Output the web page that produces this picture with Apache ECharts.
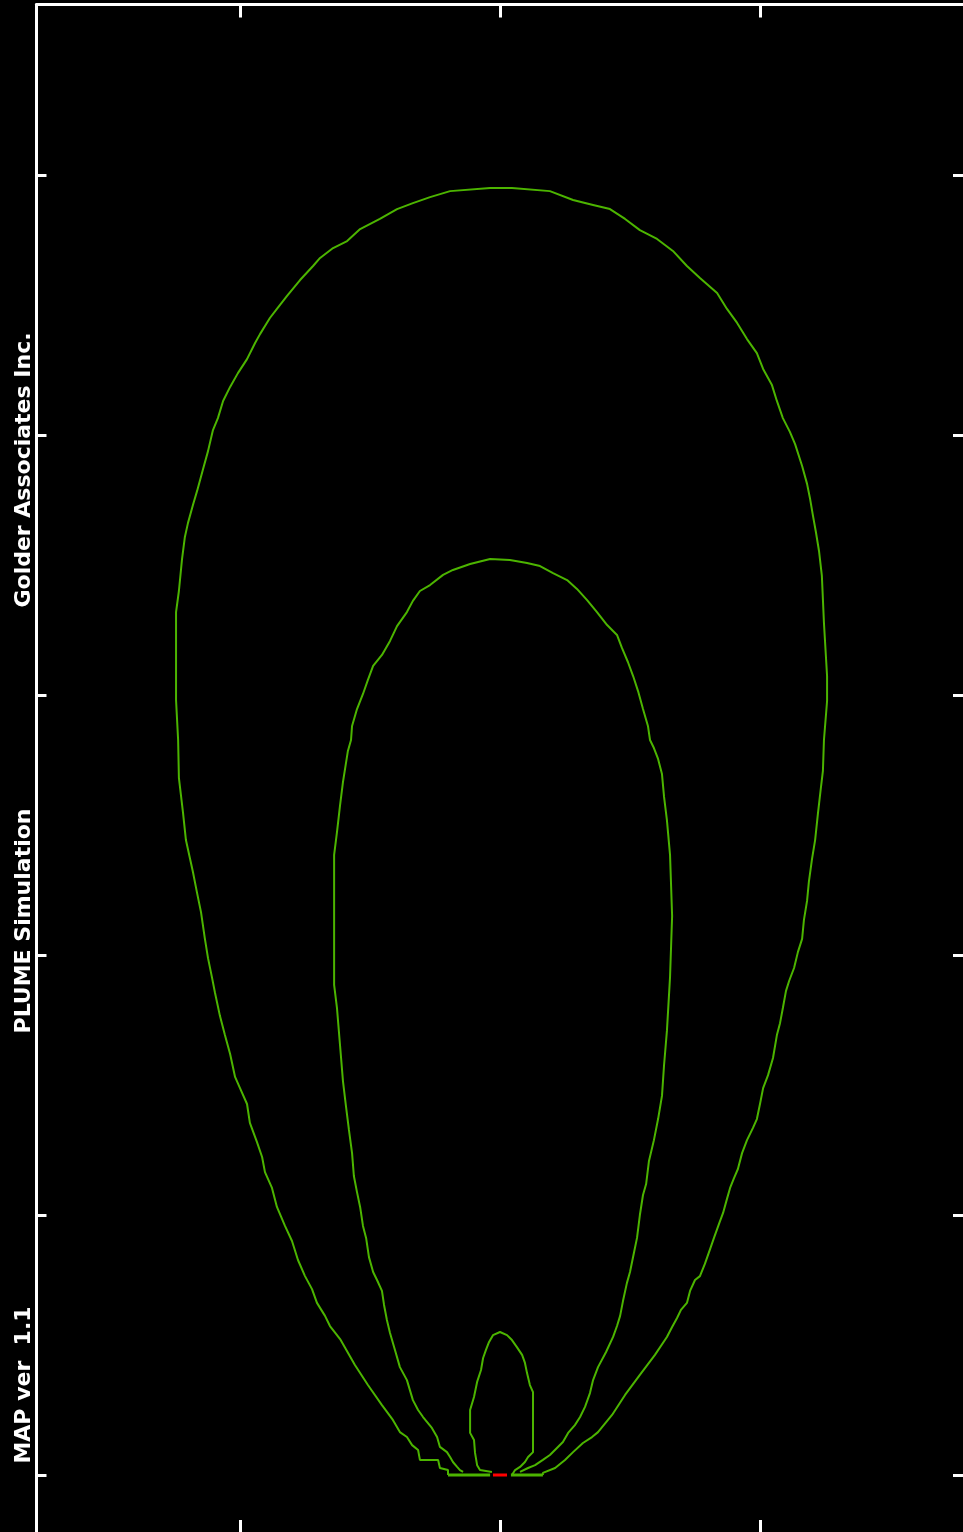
<!DOCTYPE html>
<html>
<head>
<meta charset="utf-8">
<script src="https://cdn.jsdelivr.net/npm/echarts@6/dist/echarts.min.js"></script>
<style>
html,body{margin:0;padding:0;background:#000;}
#chart{width:963px;height:1532px;}
</style>
</head>
<body>
<div id="chart"></div>
<script>
// Tick positions (distance units, source at 0,0)
const xTicks = [-1, 0, 1];
const yTicks = [0, 1, 2, 3, 4, 5];

// Outer concentration contour [x, y]
const outerContour = [
 [-0.200,0.000],[-0.200,0.019],[-0.231,0.027],[-0.238,0.058],[-0.308,0.058],[-0.315,0.096],[-0.338,0.115],
 [-0.358,0.146],[-0.385,0.165],[-0.412,0.212],[-0.454,0.269],[-0.508,0.346],[-0.558,0.423],[-0.615,0.523],
 [-0.654,0.573],[-0.673,0.612],[-0.704,0.662],[-0.723,0.715],[-0.750,0.765],[-0.777,0.827],[-0.800,0.900],
 [-0.827,0.958],[-0.858,1.031],[-0.877,1.104],[-0.904,1.165],[-0.915,1.223],[-0.935,1.281],[-0.962,1.354],
 [-0.973,1.427],[-1.000,1.488],[-1.019,1.531],[-1.038,1.619],[-1.058,1.692],[-1.077,1.765],[-1.096,1.854],
 [-1.108,1.915],[-1.123,1.988],[-1.135,2.062],[-1.150,2.165],[-1.165,2.238],[-1.181,2.319],[-1.208,2.442],
 [-1.219,2.546],[-1.235,2.681],[-1.238,2.827],[-1.246,2.981],[-1.246,3.319],[-1.235,3.400],[-1.223,3.523],
 [-1.212,3.608],[-1.200,3.662],[-1.181,3.731],[-1.165,3.785],[-1.142,3.869],[-1.123,3.938],[-1.104,4.019],
 [-1.085,4.065],[-1.065,4.131],[-1.038,4.185],[-1.008,4.238],[-0.973,4.292],[-0.942,4.354],[-0.923,4.388],
 [-0.885,4.450],[-0.858,4.485],[-0.819,4.535],[-0.769,4.596],[-0.719,4.650],[-0.692,4.681],[-0.642,4.719],
 [-0.588,4.746],[-0.538,4.792],[-0.462,4.831],[-0.396,4.869],[-0.335,4.892],[-0.269,4.915],[-0.192,4.938],
 [-0.038,4.950],[0.046,4.950],[0.192,4.938],[0.281,4.904],[0.358,4.885],[0.423,4.869],[0.481,4.831],
 [0.538,4.788],[0.604,4.754],[0.665,4.708],[0.719,4.650],[0.769,4.604],[0.835,4.546],[0.873,4.485],
 [0.912,4.431],[0.950,4.369],[0.988,4.315],[1.012,4.254],[1.046,4.192],[1.065,4.131],[1.088,4.065],
 [1.115,4.012],[1.135,3.965],[1.162,3.881],[1.181,3.812],[1.192,3.758],[1.204,3.688],[1.215,3.627],
 [1.227,3.554],[1.238,3.458],[1.246,3.277],[1.258,3.073],[1.258,2.977],[1.246,2.827],[1.242,2.708],
 [1.235,2.650],[1.223,2.546],[1.212,2.442],[1.200,2.369],[1.188,2.281],[1.181,2.208],[1.169,2.135],
 [1.162,2.062],[1.146,2.012],[1.131,1.950],[1.112,1.900],[1.100,1.862],[1.088,1.796],[1.077,1.738],
 [1.065,1.692],[1.050,1.604],[1.031,1.538],[1.012,1.488],[1.000,1.427],[0.988,1.369],[0.973,1.335],
 [0.950,1.288],[0.931,1.238],[0.915,1.177],[0.900,1.142],[0.885,1.104],[0.873,1.062],[0.858,1.008],
 [0.842,0.965],[0.823,0.912],[0.808,0.869],[0.788,0.812],[0.769,0.765],[0.750,0.750],[0.731,0.708],
 [0.719,0.662],[0.696,0.635],[0.681,0.604],[0.662,0.569],[0.642,0.531],[0.596,0.462],[0.538,0.385],
 [0.481,0.308],[0.431,0.231],[0.377,0.165],[0.354,0.146],[0.319,0.123],[0.281,0.088],[0.250,0.058],
 [0.212,0.027],[0.165,0.008],[0.165,0.000]
];

// Middle concentration contour [x, y]
const middleContour = [
 [-0.142,0.012],[-0.154,0.019],[-0.165,0.031],[-0.181,0.050],[-0.192,0.069],[-0.204,0.088],[-0.231,0.108],
 [-0.242,0.146],[-0.262,0.181],[-0.296,0.223],[-0.315,0.250],[-0.335,0.288],[-0.358,0.365],[-0.385,0.415],
 [-0.404,0.481],[-0.423,0.546],[-0.435,0.596],[-0.446,0.654],[-0.454,0.708],[-0.473,0.750],[-0.488,0.781],
 [-0.504,0.838],[-0.515,0.912],[-0.527,0.958],[-0.538,1.031],[-0.550,1.088],[-0.562,1.150],[-0.569,1.238],
 [-0.581,1.327],[-0.592,1.415],[-0.604,1.515],[-0.615,1.650],[-0.627,1.796],[-0.638,1.885],[-0.638,2.385],
 [-0.627,2.473],[-0.615,2.577],[-0.604,2.665],[-0.585,2.785],[-0.573,2.827],[-0.569,2.881],[-0.550,2.946],
 [-0.527,3.004],[-0.508,3.058],[-0.488,3.112],[-0.454,3.154],[-0.423,3.208],[-0.396,3.265],[-0.358,3.319],
 [-0.335,3.362],[-0.308,3.400],[-0.269,3.423],[-0.219,3.462],[-0.181,3.481],[-0.115,3.504],[-0.038,3.523],
 [0.038,3.519],[0.104,3.508],[0.154,3.496],[0.204,3.469],[0.258,3.442],[0.296,3.408],[0.335,3.365],
 [0.373,3.319],[0.412,3.269],[0.450,3.231],[0.469,3.181],[0.492,3.127],[0.512,3.073],[0.531,3.015],
 [0.550,2.946],[0.569,2.881],[0.577,2.827],[0.592,2.796],[0.608,2.754],[0.623,2.696],[0.631,2.608],
 [0.642,2.519],[0.654,2.385],[0.662,2.150],[0.654,1.915],[0.642,1.708],[0.631,1.577],[0.623,1.458],
 [0.608,1.369],[0.592,1.288],[0.573,1.208],[0.562,1.119],[0.550,1.077],[0.538,1.000],[0.527,0.912],
 [0.515,0.854],[0.500,0.781],[0.488,0.738],[0.473,0.669],[0.462,0.612],[0.450,0.573],[0.435,0.531],
 [0.408,0.473],[0.377,0.415],[0.358,0.365],[0.346,0.315],[0.327,0.262],[0.308,0.223],[0.288,0.192],
 [0.262,0.162],[0.242,0.127],[0.219,0.104],[0.192,0.077],[0.165,0.058],[0.135,0.038],[0.108,0.027],
 [0.077,0.012]
];

// Inner (highest) concentration contour [x, y]
const innerContour = [
 [-0.031,0.012],[-0.077,0.019],[-0.088,0.038],[-0.096,0.085],[-0.100,0.135],[-0.115,0.162],[-0.115,0.250],
 [-0.100,0.300],[-0.088,0.358],[-0.073,0.404],[-0.065,0.450],[-0.054,0.481],[-0.042,0.512],[-0.027,0.538],
 [0.000,0.550],[0.027,0.538],[0.046,0.519],[0.065,0.492],[0.085,0.462],[0.096,0.431],[0.104,0.392],
 [0.115,0.346],[0.127,0.319],[0.127,0.088],[0.108,0.069],[0.096,0.050],[0.077,0.031],[0.058,0.019],
 [0.046,0.000]
];

// Ground line at the source row, and the source itself
const baseLeft = [[-0.200,0],[-0.038,0]];
const baseRight = [[0.042,0],[0.165,0]];
const sourceSegment = [[-0.027,0],[0.027,0]];

const labelLines = ['Golder Associates Inc.', 'PLUME Simulation', 'MAP ver  1.1'];

const chart = echarts.init(document.getElementById('chart'), null, {renderer:'canvas'});
const green = '#4cb400';
const white = '#ffffff';
function lineSeries(data, color, width, z){
  return {type:'line', data:data, showSymbol:false, symbol:'none', smooth:false, animation:false,
          lineStyle:{color:color, width:width}, z:z, silent:true};
}
const xMin = -1.7827, xMax = 1.7808, yMin = -0.2192, yMax = 5.6558;
const labelFont = 'bold 22px "DejaVu Sans"';
chart.setOption({
  backgroundColor:'#000000',
  animation:false,
  grid:{left:36.5, top:4.5, right:0, bottom:0, containLabel:false},
  xAxis:[
    {type:'value', position:'top', min:xMin, max:xMax,
     axisLine:{show:true, onZero:false, lineStyle:{color:white, width:3}},
     axisTick:{show:true, inside:true, length:13, lineStyle:{color:white, width:3}, customValues:xTicks},
     axisLabel:{show:false}, splitLine:{show:false}},
    {type:'value', position:'bottom', min:xMin, max:xMax,
     axisLine:{show:false, onZero:false},
     axisTick:{show:true, inside:true, length:12, lineStyle:{color:white, width:3}, customValues:xTicks},
     axisLabel:{show:false}, splitLine:{show:false}}
  ],
  yAxis:[
    {type:'value', position:'left', min:yMin, max:yMax,
     axisLine:{show:true, onZero:false, lineStyle:{color:white, width:3}},
     axisTick:{show:true, inside:true, length:10, lineStyle:{color:white, width:3}, customValues:yTicks},
     axisLabel:{show:false}, splitLine:{show:false}},
    {type:'value', position:'right', min:yMin, max:yMax,
     axisLine:{show:false, onZero:false},
     axisTick:{show:true, inside:true, length:10, lineStyle:{color:white, width:3}, customValues:yTicks},
     axisLabel:{show:false}, splitLine:{show:false}}
  ],
  graphic:[
    {type:'text', x:24, y:470, rotation:Math.PI/2,
     style:{text:labelLines[0], fill:white, font:labelFont, align:'center', verticalAlign:'middle'}},
    {type:'text', x:24, y:921, rotation:Math.PI/2,
     style:{text:labelLines[1], fill:white, font:labelFont, align:'center', verticalAlign:'middle'}},
    {type:'text', x:24, y:1385, rotation:Math.PI/2,
     style:{text:labelLines[2], fill:white, font:labelFont, align:'center', verticalAlign:'middle'}}
  ],
  series:[
    lineSeries(outerContour, green, 2, 2),
    lineSeries(middleContour, green, 2, 2),
    lineSeries(innerContour, green, 2, 2),
    lineSeries(baseLeft, green, 3, 3),
    lineSeries(baseRight, green, 3, 3),
    lineSeries(sourceSegment, '#ff0000', 3, 4)
  ]
});
</script>
</body>
</html>
